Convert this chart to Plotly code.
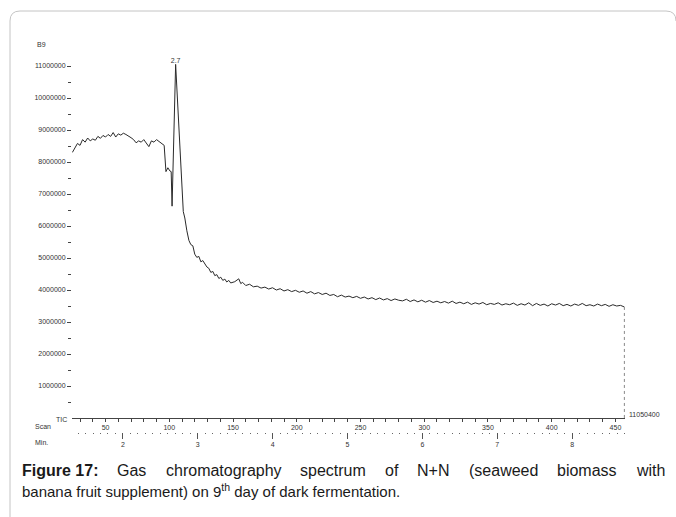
import plotly.graph_objects as go

# ---------------- data ----------------
scan = [24, 26, 28, 30, 32, 34, 36, 38, 40, 42, 44, 46, 48, 50, 52, 54, 56, 58, 60, 62,
        64, 66, 68, 70, 72, 74, 76, 78, 80, 82, 84, 86, 88, 90, 92, 94, 96,
        97.4, 98.9, 100.5, 101.5, 102.2, 105, 111, 112.2, 113.8, 115.4, 116.9, 118.5,
        120, 121.6, 123.2, 124.8, 126.3, 127.9, 129.5, 131, 132.6, 134.2, 135.7, 137.3,
        138.9, 140.4, 142, 143.6, 145.1, 146.7, 148.2, 151.4, 154.5, 156.1, 157.5,
        160, 163, 166, 169, 172, 175, 178, 181, 184, 187, 190, 193, 196, 199, 202, 205,
        208, 211, 214, 217, 220, 223, 226, 229, 232, 235, 238, 241, 244, 247, 250, 253,
        256, 259, 262, 265, 268, 271, 274, 277, 280, 283, 286, 289, 292, 295, 298, 301,
        304, 307, 310, 313, 316, 319, 322, 325, 328, 331, 334, 337, 340, 343, 346, 349,
        352, 355, 358, 361, 364, 367, 370, 373, 376, 379, 382, 385, 388, 391, 394, 397,
        400, 403, 406, 409, 412, 415, 418, 421, 424, 427, 430, 433, 436, 439, 442, 445,
        448, 451, 454, 457]
tic_millions = [8.30, 8.45, 8.58, 8.52, 8.70, 8.62, 8.75, 8.66, 8.72, 8.68, 8.80, 8.74, 8.83,
                8.78, 8.86, 8.80, 8.92, 8.78, 8.88, 8.84, 8.90, 8.86, 8.82, 8.76, 8.70, 8.60,
                8.66, 8.62, 8.70, 8.58, 8.48, 8.66, 8.62, 8.70, 8.64, 8.58, 8.52,
                7.70, 7.82, 7.72, 7.70, 6.62, 11.0504, 6.45, 6.25, 5.85, 5.55, 5.42, 5.38,
                5.12, 5.02, 5.05, 4.88, 4.92, 4.80, 4.72, 4.68, 4.55, 4.58, 4.45, 4.48,
                4.36, 4.40, 4.30, 4.34, 4.25, 4.30, 4.22, 4.26, 4.35, 4.20, 4.24,
                4.14, 4.18, 4.10, 4.12, 4.06, 4.09, 4.03, 4.07, 4.00, 4.04, 3.97, 4.01, 3.95,
                3.99, 3.93, 3.97, 3.90, 3.95, 3.88, 3.92, 3.86, 3.90, 3.83, 3.86, 3.79, 3.84,
                3.78, 3.81, 3.76, 3.80, 3.74, 3.78, 3.72, 3.76, 3.70, 3.75, 3.69, 3.73, 3.67,
                3.72, 3.68, 3.66, 3.71, 3.64, 3.69, 3.63, 3.68, 3.62, 3.67, 3.61, 3.65, 3.60,
                3.64, 3.59, 3.65, 3.58, 3.62, 3.57, 3.62, 3.55, 3.60, 3.56, 3.61, 3.54, 3.58,
                3.55, 3.60, 3.53, 3.57, 3.54, 3.59, 3.52, 3.57, 3.53, 3.60, 3.51, 3.58, 3.52,
                3.56, 3.50, 3.57, 3.53, 3.58, 3.51, 3.55, 3.50, 3.56, 3.52, 3.58, 3.51, 3.54,
                3.50, 3.56, 3.51, 3.55, 3.49, 3.54, 3.50, 3.52, 3.47]
tic = [round(v * 1e6) for v in tic_millions]

y_tick_vals = [1000000, 2000000, 3000000, 4000000, 5000000, 6000000, 7000000, 8000000,
               9000000, 10000000, 11000000]
y_minor_vals = [500000, 1500000, 2500000, 3500000, 4500000, 5500000, 6500000, 7500000,
                8500000, 9500000, 10500000]
scan_ticks = [50, 100, 150, 200, 250, 300, 350, 400, 450]
min_ticks = [2, 3, 4, 5, 6, 7, 8]
SCANS_PER_MIN = 58.73
MIN_OFFSET = 0.916
max_tic = 11050400

caption_line1 = ["Figure 17:", "Gas", "chromatography", "spectrum", "of", "N+N",
                 "(seaweed", "biomass", "with"]
caption_line2 = "banana fruit supplement) on 9<sup>th</sup> day of dark fermentation."

# ---------------- layout geometry ----------------
W, H = 676, 517
L, R, T, B = 72, 51, 46, 60
PW, PH = W - L - R, H - T - B
AXIS_PY = 418
x_range = [23.7, 457.5]
min_range = [MIN_OFFSET + x_range[0] / SCANS_PER_MIN, MIN_OFFSET + x_range[1] / SCANS_PER_MIN]


def px(xp):
    return (xp - L) / PW


def py(yp):
    return (T + PH - yp) / PH


ydom0 = py(AXIS_PY)

peak_i = max(range(len(tic)), key=lambda i: tic[i])
peak_min = MIN_OFFSET + scan[peak_i] / SCANS_PER_MIN

small = dict(family="Liberation Sans, Arial, sans-serif", size=7, color="#333")

fig = go.Figure()
fig.add_trace(go.Scatter(x=scan, y=tic, mode="lines",
                         line=dict(color="#2a2a2a", width=1), hoverinfo="skip",
                         showlegend=False))
fig.add_trace(go.Scatter(x=[scan[-1], scan[-1]], y=[tic[-1], 0], mode="lines",
                         line=dict(color="#888", width=1, dash="dot"),
                         hoverinfo="skip", showlegend=False))
fig.add_trace(go.Scatter(x=[peak_min], y=[tic[peak_i]], xaxis="x2", mode="text",
                         text=[f"{peak_min:.1f}"], textposition="top center",
                         textfont=small, hoverinfo="skip", showlegend=False))

fig.update_layout(
    width=W, height=H, autosize=False,
    margin=dict(l=L, r=R, t=T, b=B, pad=0),
    paper_bgcolor="white", plot_bgcolor="white",
    xaxis=dict(range=x_range, anchor="y", showgrid=False, zeroline=False,
               showline=True, linecolor="#444", linewidth=1,
               ticks="outside", ticklen=3, tickcolor="#444", tickwidth=1,
               tickvals=scan_ticks, ticktext=[str(v) for v in scan_ticks],
               tickfont=small,
               minor=dict(dtick=10, tick0=0, ticklen=3, tickcolor="#444", ticks="outside",
                          showgrid=False)),
    xaxis2=dict(range=min_range, overlaying="x", anchor="free",
                position=py(432), showgrid=False, zeroline=False, showline=False,
                ticks="outside", ticklen=6, tickcolor="#555", tickwidth=1,
                tickvals=min_ticks, ticktext=[str(v) for v in min_ticks],
                tickfont=small,
                minor=dict(dtick=0.1, tick0=0, ticklen=1, tickcolor="#666",
                           ticks="outside", showgrid=False)),
    yaxis=dict(domain=[ydom0, 1], range=[0, 11.625e6], showgrid=False, zeroline=False,
               showline=False, ticks="outside", ticklen=4, tickcolor="#444",
               tickvals=y_tick_vals, ticktext=[str(v) for v in y_tick_vals],
               tickfont=small,
               minor=dict(tickvals=y_minor_vals, ticklen=3, tickcolor="#444",
                          ticks="outside", showgrid=False)),
)

fig.add_shape(type="path", xref="paper", yref="paper",
              path=(f"M {px(10)},{py(520)} L {px(10)},{py(21)} "
                    f"Q {px(10)},{py(11)} {px(20)},{py(11)} "
                    f"L {px(666)},{py(11)} Q {px(676)},{py(11)} {px(676)},{py(21)}"),
              line=dict(color="#c4c4c4", width=1))

ann = []
ann.append(dict(text="B9", x=px(35), y=py(45), xanchor="left", yanchor="middle"))
ann.append(dict(text="TIC", x=px(54), y=py(419), xanchor="left", yanchor="middle"))
ann.append(dict(text="Scan", x=px(33), y=py(426), xanchor="left", yanchor="middle"))
ann.append(dict(text="Min.", x=px(33), y=py(442), xanchor="left", yanchor="middle"))
for a in ann:
    fig.add_annotation(xref="paper", yref="paper", showarrow=False, font=small, **a)

fig.add_annotation(x=scan[-1], y=0, xref="x", yref="y", text=str(max_tic),
                   showarrow=False, xanchor="left", yanchor="middle",
                   xshift=3, yshift=4, font=small)

# ---------------- caption: first line justified between x=20 and x=665 ----------------
AW = dict(a=556, b=556, c=500, d=556, e=556, f=278, g=556, h=556, i=222, k=500, l=222,
          m=833, n=556, o=556, p=556, r=333, s=500, t=278, u=556, w=722, y=500)
AW.update({"G": 778, "N": 722, "+": 584, "(": 333, ")": 333, ".": 278, " ": 278, "9": 556})
ABW = {"F": 611, "i": 278, "g": 611, "u": 611, "r": 389, "e": 556, " ": 278, "1": 556,
       "7": 556, ":": 333}
CAP1_SIZE = 16
CAP2_SIZE = 15
CAP_FAMILY = "Liberation Sans, Arial, sans-serif"


def wwidth(word, bold=False):
    tab = ABW if bold else AW
    return sum(tab.get(ch, 556) for ch in word) / 1000 * CAP1_SIZE


widths = [wwidth(w, i == 0) for i, w in enumerate(caption_line1)]
gap = (662 - 20 - sum(widths)) / (len(caption_line1) - 1)
cap1 = dict(family=CAP_FAMILY, size=CAP1_SIZE, color="#1a1a1a")
cap2 = dict(family=CAP_FAMILY, size=CAP2_SIZE, color="#1a1a1a")
xpos = 20
for i, word in enumerate(caption_line1):
    txt = f"<b>{word}</b>" if i == 0 else word
    fig.add_annotation(xref="paper", yref="paper", x=px(xpos), y=py(470), text=txt,
                       showarrow=False, xanchor="left", yanchor="middle", font=cap1)
    xpos += widths[i] + gap
fig.add_annotation(xref="paper", yref="paper", x=px(20), y=py(491), text=caption_line2,
                   showarrow=False, xanchor="left", yanchor="middle", font=cap2)

fig.write_html("out.html")
